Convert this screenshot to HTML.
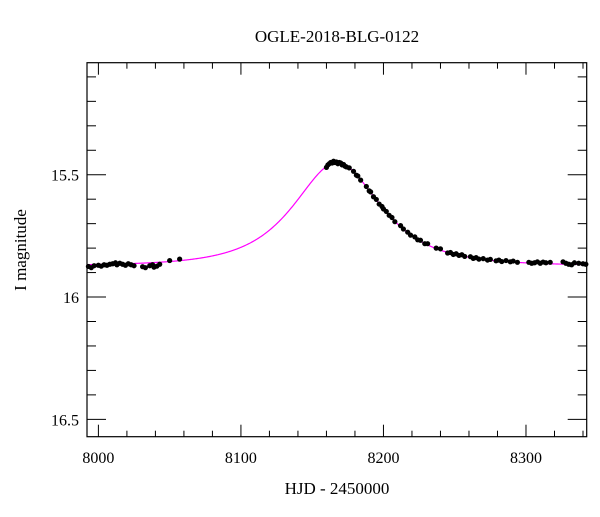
<!DOCTYPE html>
<html><head><meta charset="utf-8"><style>
body{margin:0;background:#fff;}
svg text{font-family:"Liberation Serif",serif;fill:#000;}
</style></head><body>
<svg id="chart" width="600" height="512" viewBox="0 0 600 512" xmlns="http://www.w3.org/2000/svg">
<rect width="600" height="512" fill="#fff"/>
<text x="337" y="42" font-size="17" text-anchor="middle">OGLE-2018-BLG-0122</text>
<text x="337" y="494" font-size="17" text-anchor="middle">HJD - 2450000</text>
<text transform="translate(26,250) rotate(-90)" font-size="17" text-anchor="middle">I magnitude</text>
<g id="ticks"></g>
<path id="model" fill="none" stroke="#ff00ff" stroke-width="1.2"/>
<g id="pts"></g>
<rect x="87" y="62.7" width="499.7" height="374" fill="none" stroke="#000" stroke-width="1.2"/>
</svg>
<script>
const obsTimes=[7993,7995,7997,8000,8002,8004,8006,8008,8010,8012,8013,8015,8017,8019,8021,8023,8025,8031,8033,8036,8038,8039,8041,8043,8050,8057,
8160,8161,8162,8163,8164,8165,8166,8167,8168,8169,8170,8171,8172,8173,8174,8176,8179,8181,8182,8184,8188,8190,8191,8193,8195,8197,8199,8200,8202,8204,8206,8208,8212,8214,8217,8219,8222,8224,8226,8229,8231,8237,8240,8245,8247,8249,8251,8253,8255,8257,8261,8263,8265,8267,8270,8273,8275,8279,8281,8283,8286,8289,8291,8294,8302,8304,8306,8308,8310,8312,8314,8317,8326,8328,8330,8332,8334,8337,8340,8342];
const obsMags=[15.875,15.88,15.872,15.87,15.874,15.868,15.87,15.866,15.864,15.86,15.868,15.862,15.866,15.87,15.864,15.868,15.872,15.876,15.88,15.872,15.868,15.878,15.874,15.866,15.851,15.845,
15.47,15.46,15.455,15.45,15.452,15.445,15.45,15.448,15.455,15.45,15.452,15.46,15.458,15.465,15.468,15.472,15.486,15.502,15.505,15.522,15.548,15.566,15.57,15.59,15.601,15.62,15.63,15.64,15.65,15.666,15.675,15.692,15.708,15.722,15.735,15.747,15.754,15.766,15.768,15.782,15.782,15.8,15.803,15.82,15.818,15.826,15.823,15.83,15.827,15.834,15.835,15.842,15.839,15.845,15.843,15.849,15.846,15.852,15.849,15.855,15.851,15.856,15.853,15.858,15.858,15.862,15.86,15.856,15.862,15.857,15.86,15.858,15.856,15.862,15.866,15.868,15.86,15.862,15.864,15.866];
const modelParams=[8167.4,0.85,40,15.872];
const xTickLabels=["8000","8100","8200","8300"];
const xTickValues=[8000,8100,8200,8300];
const yTickLabels=["15.5","16","16.5"];
const yTickValues=[15.5,16,16.5];
const X0=87,X1=586.7,Y0=62.7,Y1=436.7,T0=7992,T1=8342.6,M0=15.042,M1=16.571;
function sx(t){return X0+(t-T0)/(T1-T0)*(X1-X0);}
function sy(m){return Y0+(m-M0)/(M1-M0)*(Y1-Y0);}
const NS="http://www.w3.org/2000/svg";
const tg=document.getElementById('ticks');
function line(x1,y1,x2,y2,name){const l=document.createElementNS(NS,'line');l.setAttribute('x1',x1);l.setAttribute('y1',y1);l.setAttribute('x2',x2);l.setAttribute('y2',y2);l.setAttribute('stroke','#000');l.setAttribute('stroke-width','1');


tg.appendChild(l);}
for(let t=8000;t<=8340;t+=20){const x=sx(t);const maj=(t%100===0);const L=maj?12:6;line(x,Y1,x,Y1-L,'x-tick');line(x,Y0,x,Y0+L,'x-tick');}
for(let i=0;i<=15;i++){const m=15.1+i*0.1;if(m>M1)break;const y=sy(m);const maj=Math.abs(m*2-Math.round(m*2))<1e-6;const L=maj?19:9;line(X0,y,X0+L,y,'y-tick');line(X1,y,X1-L,y,'y-tick');}
xTickLabels.forEach((s,i)=>{const t=document.createElementNS(NS,'text');t.setAttribute('x',sx(xTickValues[i]));t.setAttribute('y',463);t.setAttribute('font-size','16');t.setAttribute('text-anchor','middle');t.textContent=s;


tg.appendChild(t);});
yTickLabels.forEach((s,i)=>{const t=document.createElementNS(NS,'text');t.setAttribute('x',79);t.setAttribute('y',sy(yTickValues[i])+6);t.setAttribute('font-size','16');t.setAttribute('text-anchor','end');t.textContent=s;


tg.appendChild(t);});
function model(t){const [t0,u0,tE,Ib]=modelParams;const u=Math.sqrt(u0*u0+((t-t0)/tE)**2);const A=(u*u+2)/(u*Math.sqrt(u*u+4));return Ib-2.5*Math.log10(A);}
let d='';for(let t=T0;t<=T1;t+=0.5){d+=(d?'L':'M')+sx(t).toFixed(2)+','+sy(model(t)).toFixed(2);}
document.getElementById('model').setAttribute('d',d);
const pg=document.getElementById('pts');
obsTimes.forEach((t,i)=>{if(t<T0||t>T1)return;const c=document.createElementNS(NS,'circle');c.setAttribute('cx',sx(t));c.setAttribute('cy',sy(obsMags[i]));c.setAttribute('r',2.6);c.setAttribute('fill','#000');


pg.appendChild(c);});
</script>
</body></html>
